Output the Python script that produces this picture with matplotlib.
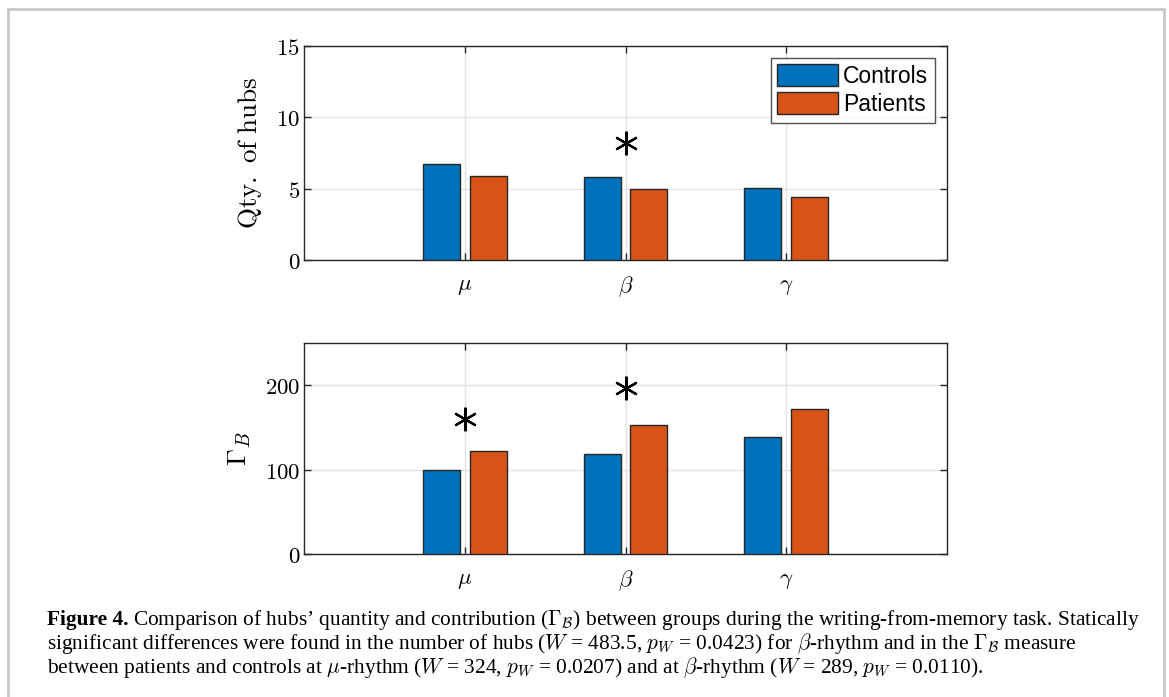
import matplotlib
matplotlib.use("Agg")
import matplotlib.pyplot as plt
from matplotlib.patches import Rectangle
from matplotlib.ticker import FuncFormatter
import numpy as np

# data
bands = [r'$\mu$', r'$\beta$', r'$\gamma$']
groups = ['Controls', 'Patients']
hubs_controls = [6.7, 5.8, 5.05]
hubs_patients = [5.9, 4.95, 4.45]
gamma_controls = [100, 118, 139]
gamma_patients = [122, 153, 172]
# asterisk heights (None = not significant)
hubs_sig = [None, 8.2, None]
gamma_sig = [160, 196, None]

BLUE = '#0072BD'
ORANGE = '#D95319'
DARK = '#262626'

plt.rcParams['mathtext.fontset'] = 'cm'
plt.rcParams['axes.linewidth'] = 1.0

fig = plt.figure(figsize=(11.69, 6.97), dpi=100)

# light grey frame round the whole figure
fig.patches.append(Rectangle((8 / 1169, -0.05), 1156 / 1169, 1 - 9 / 697 + 0.05,
                             transform=fig.transFigure, fill=False,
                             edgecolor='#c8c8c8', linewidth=2))

ax1 = fig.add_axes([304.3 / 1169, 1 - 260.3 / 697, 642.4 / 1169, 214.6 / 697])
ax2 = fig.add_axes([304.3 / 1169, 1 - 554.3 / 697, 642.4 / 1169, 211.6 / 697])

x = np.arange(1, len(bands) + 1)
w = 0.232
off = 0.145


def style(ax, ylim, yticks, ylabel, ylabel_x):
    ax.set_xlim(0, 4)
    ax.set_ylim(*ylim)
    ax.set_xticks(x)
    ax.set_xticklabels(bands, fontsize=17)
    ax.set_yticks(yticks)
    ax.yaxis.set_major_formatter(FuncFormatter(lambda v, _: f'${v:g}$'))
    ax.tick_params(direction='in', length=5, width=1, color=DARK,
                   top=True, right=True, labelsize=16.5)
    ax.tick_params(axis='x', pad=10)
    ax.tick_params(axis='y', pad=3)
    ax.grid(True, color='#e3e3e3', linewidth=1)
    ax.set_axisbelow(True)
    for s in ax.spines.values():
        s.set_color(DARK)
    ax.set_ylabel(ylabel, fontsize=19.5)
    ax.yaxis.set_label_coords(ylabel_x, 0.5)


def draw(ax, ctrl, pat, sig):
    ax.bar(x - off, ctrl, w, color=BLUE, edgecolor=DARK, linewidth=1,
           label=groups[0], zorder=3)
    ax.bar(x + off, pat, w, color=ORANGE, edgecolor=DARK, linewidth=1,
           label=groups[1], zorder=3)
    for xi, s in zip(x, sig):
        if s is not None:
            ax.plot(xi, s, marker=(6, 2, 0), markersize=17, markeredgewidth=1.6,
                    color='black', zorder=4)


draw(ax1, hubs_controls, hubs_patients, hubs_sig)
style(ax1, (0, 15), [0, 5, 10, 15], r'$\mathrm{Qty.\ of\ hubs}$', -0.062)
leg = ax1.legend(loc='upper right', frameon=True, fancybox=False,
                 edgecolor=DARK, handlelength=2.65, handleheight=1.1,
                 borderpad=0.3, labelspacing=0.18, handletextpad=0.2,
                 borderaxespad=0.52, prop={'family': 'Liberation Sans', 'size': 16.5})
leg.get_frame().set_linewidth(1)

draw(ax2, gamma_controls, gamma_patients, gamma_sig)
style(ax2, (0, 250), [0, 100, 200], r'$\Gamma_B$', -0.080)

# caption
cap_font = {'family': 'Liberation Serif', 'size': 15.4}
x0 = 47 / 1169
bold = fig.text(x0, 1 - 620 / 697, 'Figure 4.', fontweight='bold', va='center',
                **cap_font)
fig.canvas.draw()
bb = bold.get_window_extent()
fig.text((bb.x1 + 4) / 1169, 1 - 620 / 697,
         r"Comparison of hubs’ quantity and contribution ($\Gamma_{\mathcal{B}}$) "
         r"between groups during the writing-from-memory task. Statically",
         va='center', **cap_font)
fig.text(x0, 1 - 644 / 697,
         r"significant differences were found in the number of hubs ($W$ = 483.5, "
         r"$p_W$ = 0.0423) for $\beta$-rhythm and in the $\Gamma_{\mathcal{B}}$ measure",
         va='center', **cap_font)
fig.text(x0, 1 - 668 / 697,
         r"between patients and controls at $\mu$-rhythm ($W$ = 324, $p_W$ = 0.0207) "
         r"and at $\beta$-rhythm ($W$ = 289, $p_W$ = 0.0110).",
         va='center', **cap_font)

fig.savefig('out.png', dpi=100)
